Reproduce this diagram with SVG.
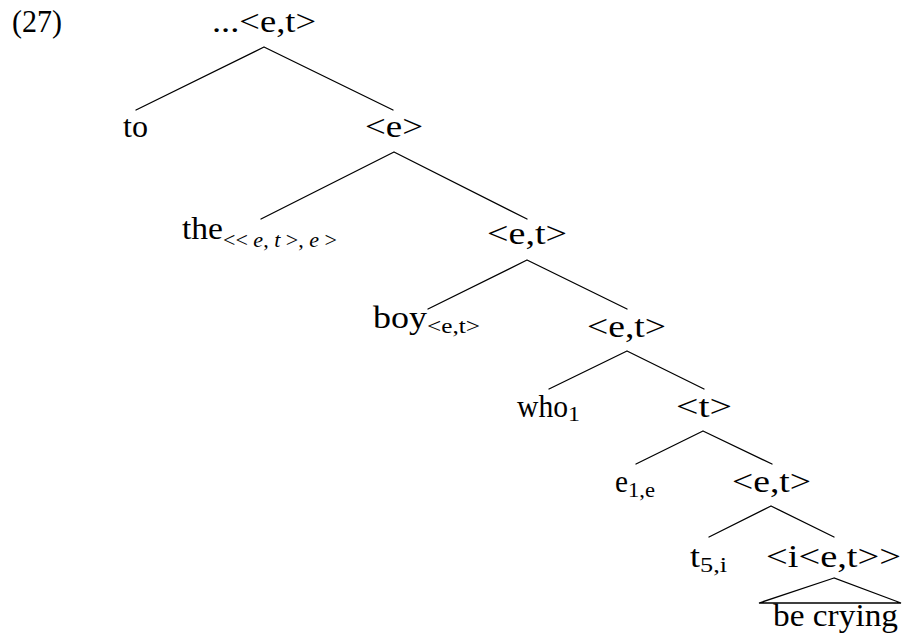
<svg xmlns="http://www.w3.org/2000/svg" width="902" height="641" viewBox="0 0 902 641">
<style>
text{font-family:"Liberation Serif","DejaVu Serif","Times New Roman",serif;fill:#000}
.m{font-size:31px}
.s{font-size:21px}
.i{font-style:italic}
.e{stroke:#000;stroke-width:1.3;fill:none;stroke-linecap:round}
</style>
<rect width="902" height="641" fill="#fff"/>
<text class="m" x="12" y="32" textLength="50" lengthAdjust="spacingAndGlyphs">(27)</text>
<g id="edges">
<path class="e" d="M264,47L136,110M264,47L393,110"/>
<path class="e" d="M394,152L261,219M394,152L527,219"/>
<path class="e" d="M527,260L428,309M527,260L627,309"/>
<path class="e" d="M627,351L549,389M627,351L704,389"/>
<path class="e" d="M703,431L636,464M703,431L772,464"/>
<path class="e" d="M771,506L709,537M771,506L834,537"/>
<polygon class="e" points="834,578 759,603 901,603"/>
</g>
<g id="n-root"><text class="m" x="212" y="32" textLength="104" lengthAdjust="spacingAndGlyphs">...&lt;e,t&gt;</text></g>
<g id="n-to"><text class="m" x="123" y="137" textLength="25" lengthAdjust="spacingAndGlyphs">to</text></g>
<g id="n-e"><text class="m" x="365" y="137" textLength="58" lengthAdjust="spacingAndGlyphs">&lt;e&gt;</text></g>
<g id="n-the"><text class="m" x="182" y="239" textLength="41" lengthAdjust="spacingAndGlyphs">the</text><text class="s" x="223" y="247" textLength="114" lengthAdjust="spacingAndGlyphs">&lt;&lt; <tspan class="i">e</tspan>, <tspan class="i">t</tspan> &gt;, <tspan class="i">e</tspan> &gt;</text></g>
<g id="n-et1"><text class="m" x="487" y="244" textLength="80" lengthAdjust="spacingAndGlyphs">&lt;e,t&gt;</text></g>
<g id="n-boy"><text class="m" x="373" y="328" textLength="54" lengthAdjust="spacingAndGlyphs">boy</text><text class="s" x="427" y="333" textLength="53" lengthAdjust="spacingAndGlyphs">&lt;e,t&gt;</text></g>
<g id="n-et2"><text class="m" x="587" y="337" textLength="79" lengthAdjust="spacingAndGlyphs">&lt;e,t&gt;</text></g>
<g id="n-who"><text class="m" x="517" y="417" textLength="51" lengthAdjust="spacingAndGlyphs">who</text><text class="s" x="568" y="421" textLength="12" lengthAdjust="spacingAndGlyphs">1</text></g>
<g id="n-t"><text class="m" x="676" y="417" textLength="56" lengthAdjust="spacingAndGlyphs">&lt;t&gt;</text></g>
<g id="n-e1e"><text class="m" x="615" y="492" textLength="13" lengthAdjust="spacingAndGlyphs">e</text><text class="s" x="628" y="497" textLength="27" lengthAdjust="spacingAndGlyphs">1,e</text></g>
<g id="n-et3"><text class="m" x="732" y="492" textLength="79" lengthAdjust="spacingAndGlyphs">&lt;e,t&gt;</text></g>
<g id="n-t5i"><text class="m" x="690" y="567" textLength="10" lengthAdjust="spacingAndGlyphs">t</text><text class="s" x="700" y="572" textLength="27" lengthAdjust="spacingAndGlyphs">5,i</text></g>
<g id="n-iet"><text class="m" x="766" y="567" textLength="135" lengthAdjust="spacingAndGlyphs">&lt;i&lt;e,t&gt;&gt;</text></g>
<g id="n-becrying"><text class="m" x="773" y="626" textLength="125" lengthAdjust="spacingAndGlyphs">be crying</text></g>
</svg>
